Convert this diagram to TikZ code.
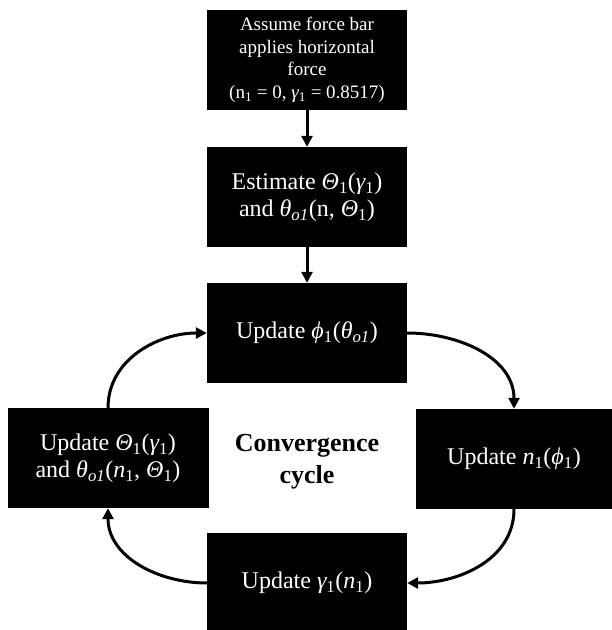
\documentclass[tikz,border=0pt]{standalone}
\usepackage{fontspec}
\setmainfont{Liberation Serif}
\usetikzlibrary{arrows.meta}
\tikzset{
  blk/.style={fill=black, text=white, inner sep=0pt, align=center, font=\fontsize{24}{27}\selectfont},
  arr/.style={line width=3pt, -{Triangle[length=11pt,width=11pt]}},
}
\newcommand{\myit}[1]{{\itshape #1}}
\newcommand{\mysb}[1]{\textsubscript{#1}}
\begin{document}
\begin{tikzpicture}[x=1pt,y=-1pt]
\useasboundingbox (0,0) rectangle (612,630);
\node[blk, minimum width=200pt, minimum height=100pt, font=\fontsize{19}{22.5}\selectfont] (b1) at (307,60)
  {Assume force bar\\applies horizontal\\force\\(n\mysb{1} = 0, \myit{γ}\mysb{1} = 0.8517)};
\node[blk, minimum width=200pt, minimum height=100pt] (b2) at (307,197)
  {Estimate \myit{Θ}\mysb{1}(\myit{γ}\mysb{1})\\and \myit{θ}\mysb{\myit{o1}}(n, \myit{Θ}\mysb{1})};
\node[blk, minimum width=200pt, minimum height=100pt] (b3) at (307,333)
  {Update \myit{ϕ}\mysb{1}(\myit{θ}\mysb{\myit{o1}})};
\node[blk, minimum width=201pt, minimum height=100pt] (lt) at (108,458)
  {Update \myit{Θ}\mysb{1}(\myit{γ}\mysb{1})\\and \myit{θ}\mysb{\myit{o1}}(\myit{n}\mysb{1}, \myit{Θ}\mysb{1})};
\node[blk, minimum width=196pt, minimum height=100pt] (rt) at (514,459)
  {Update \myit{n}\mysb{1}(\myit{ϕ}\mysb{1})};
\node[blk, minimum width=200pt, minimum height=100pt] (bt) at (307,583)
  {Update \myit{γ}\mysb{1}(\myit{n}\mysb{1})};
\node[align=center, font=\fontsize{26}{32}\selectfont\bfseries] (cc) at (307,462) {Convergence\\cycle};
\draw[arr] (b1.south) -- (b2.north);
\draw[arr] (b2.south) -- (b3.north);
\draw[arr] (b3.east) to[out=0,in=90] (rt.north);
\draw[arr] (rt.south) to[out=-90,in=0] (bt.east);
\draw[arr] (bt.west) to[out=180,in=-90] (lt.south);
\draw[arr] (lt.north) to[out=90,in=180] (b3.west);
\end{tikzpicture}
\end{document}
